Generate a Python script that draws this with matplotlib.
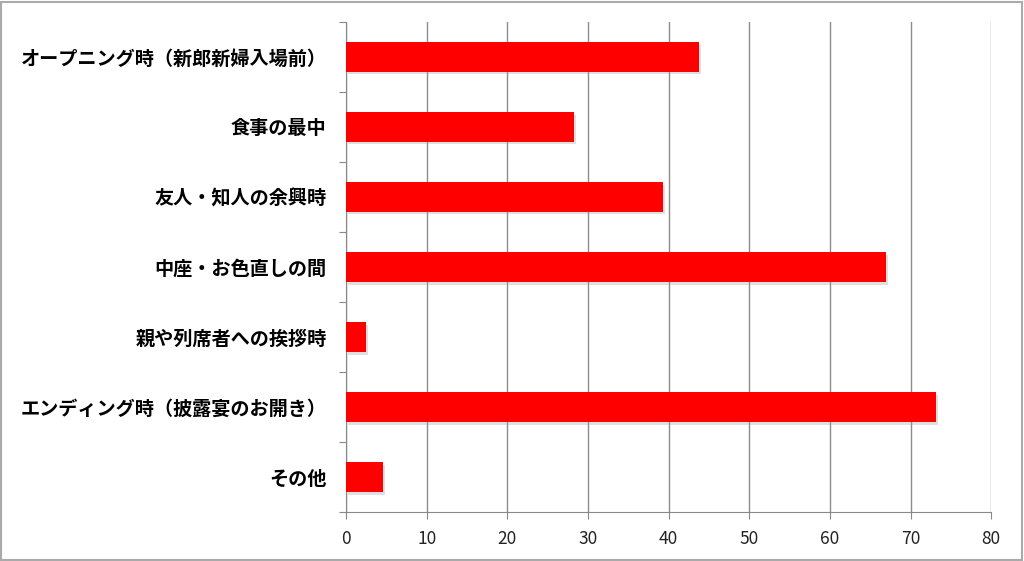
import matplotlib
matplotlib.use('Agg')
import matplotlib.pyplot as plt
import matplotlib.patheffects as pe
from matplotlib.patches import Rectangle
import numpy as np

plt.rcParams['font.family'] = ['Noto Sans CJK JP', 'DejaVu Sans']

categories = ['オープニング時（新郎新婦入場前）', '食事の最中', '友人・知人の余興時',
              '中座・お色直しの間', '親や列席者への挨拶時',
              'エンディング時（披露宴のお開き）', 'その他']
values = [43.8, 28.2, 39.3, 67.0, 2.5, 73.2, 4.6]
xticks = [0, 10, 20, 30, 40, 50, 60, 70, 80]


def bar_chart():
  fig = plt.figure(figsize=(10.24, 5.61), dpi=100)
  ax = fig.add_axes([0.338, 0.087, 0.63, 0.874])
  y = np.arange(len(categories))
  bars = ax.barh(y, values, height=0.42, color='#ff0000', zorder=3)
  for b in bars:
    b.set_path_effects([pe.SimplePatchShadow(offset=(1.5, -2), shadow_rgbFace='#999999', alpha=0.3),
                        pe.Normal()])
  ax.set_ylim(len(categories) - 0.5, -0.5)
  ax.set_xlim(0, 80)
  ax.set_xticks(xticks)
  ax.set_xticklabels([str(t) for t in xticks], fontsize=12.5, color='#222222')
  ax.set_yticks(np.arange(-0.5, len(categories), 1))
  ax.set_yticklabels([])
  ax.set_yticks(y, minor=True)
  ax.set_yticklabels(categories, minor=True, fontsize=13.8, fontweight='bold')
  ax.tick_params(axis='y', which='minor', length=0, pad=14)
  ax.tick_params(axis='y', which='major', length=5, color='#888888')
  ax.tick_params(axis='x', length=5, color='#888888', pad=8)
  ax.grid(axis='x', color='#8c8c8c', linewidth=1, zorder=0)
  for s in ['top', 'right']:
    ax.spines[s].set_visible(False)
  for s in ['left', 'bottom']:
    ax.spines[s].set_color('#888888')
  fig.patches.append(Rectangle((0.001, 0.002), 0.997, 0.995, transform=fig.transFigure,
                               fill=False, edgecolor='#aaaaaa', linewidth=1.5))
  plt.savefig('out.png', dpi=100)


if __name__ == '__main__':
  bar_chart()
